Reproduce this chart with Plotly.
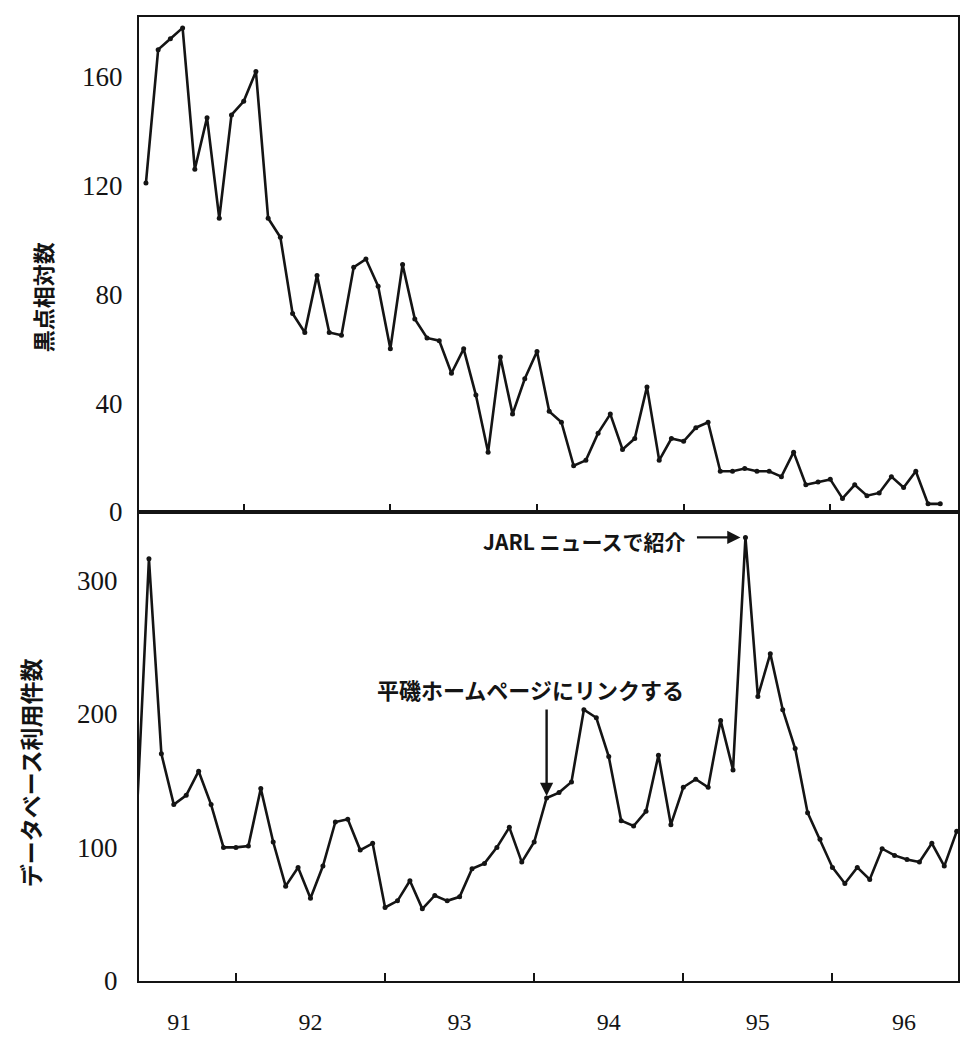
import plotly.graph_objects as go

# ---- data (monthly values) ----
start_year = 1991
start_month = 5  # May 1991

# 黒点相対数 (sunspot relative number), May 1991 - Oct 1996
sunspot = [
    121, 170, 174, 178, 126, 145, 108, 146,
    151, 162, 108, 101, 73, 66, 87, 66, 65, 90, 93, 83,
    60, 91, 71, 64, 63, 51, 60, 43, 22, 57, 36, 49,
    59, 37, 33, 17, 19, 29, 36, 23, 27, 46, 19, 27,
    26, 31, 33, 15, 15, 16, 15, 15, 13, 22, 10, 11,
    12, 5, 10, 6, 7, 13, 9, 15, 3, 3,
]

# データベース利用件数 (database accesses), May 1991 - Nov 1996
db_usage = [
    120, 316, 170, 132, 139, 157, 132, 100,
    100, 101, 144, 104, 71, 85, 62, 86, 119, 121, 98, 103,
    55, 60, 75, 54, 64, 60, 63, 84, 88, 100, 115, 89,
    104, 137, 141, 149, 203, 197, 168, 120, 116, 127, 169, 117,
    145, 151, 145, 195, 158, 332, 213, 245, 203, 174, 126, 106,
    85, 73, 85, 76, 99, 94, 91, 89, 103, 86, 112,
]

year_labels = ["91", "92", "93", "94", "95", "96"]
year_label_pos = [1991.62, 1992.5, 1993.5, 1994.5, 1995.5, 1996.48]

upper_yticks = [0, 40, 80, 120, 160]
lower_yticks = [0, 100, 200, 300]

upper_title = "黒点相対数"
lower_title = "データベース利用件数"
link_label = "平磯ホームページにリンクする"
link_index = 33   # Feb 1994
jarl_label = "JARL ニュースで紹介"
jarl_index = 49   # Jun 1995


def month_x(n):
    return [start_year + (start_month - 1 + i) / 12 for i in range(n)]


x_up = month_x(len(sunspot))
x_lo = month_x(len(db_usage))

INK = "#141414"
serif = "Liberation Serif"
cjk = "Noto Sans CJK JP"

fig = go.Figure()
fig.add_trace(go.Scatter(
    x=x_up, y=sunspot, mode="lines+markers",
    line=dict(color=INK, width=2.6), marker=dict(color=INK, size=5),
    xaxis="x", yaxis="y", showlegend=False,
))
fig.add_trace(go.Scatter(
    x=x_lo, y=db_usage, mode="lines+markers",
    line=dict(color=INK, width=2.6), marker=dict(color=INK, size=5),
    xaxis="x2", yaxis="y2", showlegend=False,
))

split = (981 - 512) / (981 - 17)

axis_common = dict(showline=True, linecolor=INK, linewidth=2.2, mirror=True,
                   showgrid=False, zeroline=False)

minor_ticks = dict(ticks="inside", ticklen=8, tickwidth=2, tickcolor=INK,
                   tickmode="linear", tick0=1992, dtick=1, showgrid=False)

fig.update_layout(
    width=963, height=1049, autosize=False,
    margin=dict(l=139, r=3, t=17, b=68),
    paper_bgcolor="white", plot_bgcolor="white",
    xaxis=dict(**axis_common, domain=[0, 1], anchor="y",
               range=[1991.286, 1996.871], tickmode="array",
               tickvals=year_label_pos, ticktext=year_labels,
               showticklabels=False, ticks="", minor=minor_ticks),
    yaxis=dict(**axis_common, domain=[split, 1], anchor="x",
               range=[0, 182], tickmode="array", tickvals=upper_yticks,
               ticks="", ticklabelstandoff=9,
               tickfont=dict(family=serif, size=27, color=INK)),
    xaxis2=dict(**axis_common, domain=[0, 1], anchor="y2",
                range=[1991.35, 1996.842], tickmode="array",
                tickvals=year_label_pos, ticktext=year_labels,
                ticks="", ticklabelstandoff=18,
                tickfont=dict(family=serif, size=24, color=INK),
                minor=minor_ticks),
    yaxis2=dict(**axis_common, domain=[0, split], anchor="x2",
                range=[0, 351], tickmode="array", tickvals=lower_yticks,
                ticks="", ticklabelstandoff=14,
                tickfont=dict(family=serif, size=27, color=INK)),
)

annotations = [
    dict(text=upper_title, xref="paper", yref="paper",
         x=(42 - 139) / 821, y=(981 - 297) / 964, textangle=-90,
         xanchor="center", yanchor="middle",
         showarrow=False, font=dict(family=cjk, size=22, color=INK, weight=700)),
    dict(text=lower_title, xref="paper", yref="paper",
         x=(30 - 139) / 821, y=(981 - 773) / 964, textangle=-90,
         xanchor="center", yanchor="middle",
         showarrow=False, font=dict(family=cjk, size=23, color=INK, weight=700)),
    # link arrow (vertical) and label
    dict(text="", xref="x2", yref="y2",
         x=x_lo[link_index], y=db_usage[link_index],
         showarrow=True, ax=0, ay=-90,
         arrowhead=2, arrowsize=1.1, arrowwidth=2.4, arrowcolor=INK, standoff=2),
    dict(text=link_label, xref="x2", yref="y2",
         x=x_lo[link_index], y=db_usage[link_index],
         xshift=-16, yshift=109, showarrow=False,
         font=dict(family=cjk, size=22, color=INK, weight=700)),
    # JARL arrow (horizontal) and label
    dict(text="", xref="x2", yref="y2",
         x=x_lo[jarl_index], y=db_usage[jarl_index],
         showarrow=True, ax=-50, ay=0,
         arrowhead=2, arrowsize=1.1, arrowwidth=2.4, arrowcolor=INK, standoff=5),
    dict(text=jarl_label, xref="x2", yref="y2",
         x=x_lo[jarl_index], y=db_usage[jarl_index],
         xanchor="right", xshift=-57, yshift=-4, showarrow=False,
         font=dict(family=cjk, size=21, color=INK, weight=700)),
]
fig.update_layout(annotations=annotations)

fig.write_html(
    "out.html",
    config={"displayModeBar": False},
    post_script="document.body.style.margin='0';document.body.style.overflow='hidden';",
)
